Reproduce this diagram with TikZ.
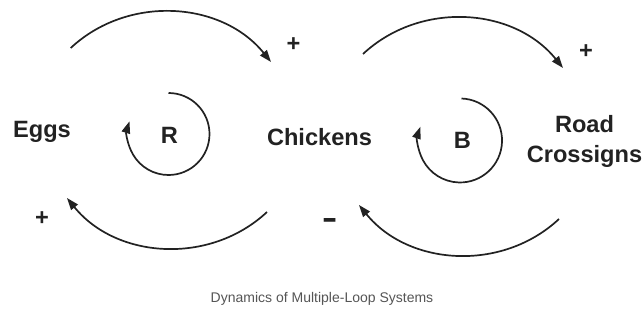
\documentclass[tikz,border=0pt]{standalone}
\usepackage{fontspec}
\setmainfont{Liberation Sans}
\usetikzlibrary{arrows.meta}
\definecolor{ink}{HTML}{222222}
\definecolor{capgray}{HTML}{555555}
\begin{document}
\begin{tikzpicture}[x=1pt,y=1pt,
  var/.style={font=\fontsize{23.6}{29}\selectfont\bfseries, text=ink, inner sep=0pt, anchor=base},
  sign/.style={font=\fontsize{23.6}{29}\selectfont\bfseries, text=ink, inner sep=0pt},
  link/.style={draw=ink, line width=1.7pt, -{Triangle[length=12pt,width=8.5pt]}}]
\useasboundingbox (0,0) rectangle (644,-323);

% variables
\node[var] (eggs) at (42,-138) {Eggs};
\node[var] (chickens) at (319.5,-146) {Chickens};
\node[var, align=center] (road) at (584.5,-162) {Road\\Crossigns};

% loop markers
\node[var] (rlabel) at (169.5,-143) {R};
\node[var] (blabel) at (462.5,-149) {B};

% polarities
\node[sign] (p1) at (293.5,-44.5) {+};
\node[sign] (p2) at (586,-52) {+};
\node[sign] (p3) at (42,-219) {+};
\node[sign] (m1) at (330.5,-224) {\scalebox{1}[1.6]{–}};

% causal links
\coordinate (ec1) at (70.7,-48);  \coordinate (ec2) at (271,-62);
\coordinate (cr1) at (363,-54);   \coordinate (cr2) at (563,-68);
\coordinate (ce1) at (267,-212);  \coordinate (ce2) at (67,-198);
\coordinate (rc1) at (559,-219);  \coordinate (rc2) at (359,-205);
\draw[link] (ec1) to[out=43,in=129] (ec2);
\draw[link] (cr1) to[out=43,in=129] (cr2);
\draw[link] (ce1) to[out=-137,in=-51] (ce2);
\draw[link] (rc1) to[out=-137,in=-51] (rc2);

% loop circles
\coordinate (r0) at (168.5,-93);
\coordinate (b0) at (461.5,-98.5);
\draw[link] (r0) arc[start angle=90,end angle=-198,radius=41];
\draw[link] (b0) arc[start angle=88,end angle=-199,radius=42];

% caption
\node[font=\fontsize{14}{17}\selectfont, text=capgray, anchor=base] (caption) at (322,-302) {Dynamics of Multiple-Loop Systems};
\end{tikzpicture}
\end{document}
